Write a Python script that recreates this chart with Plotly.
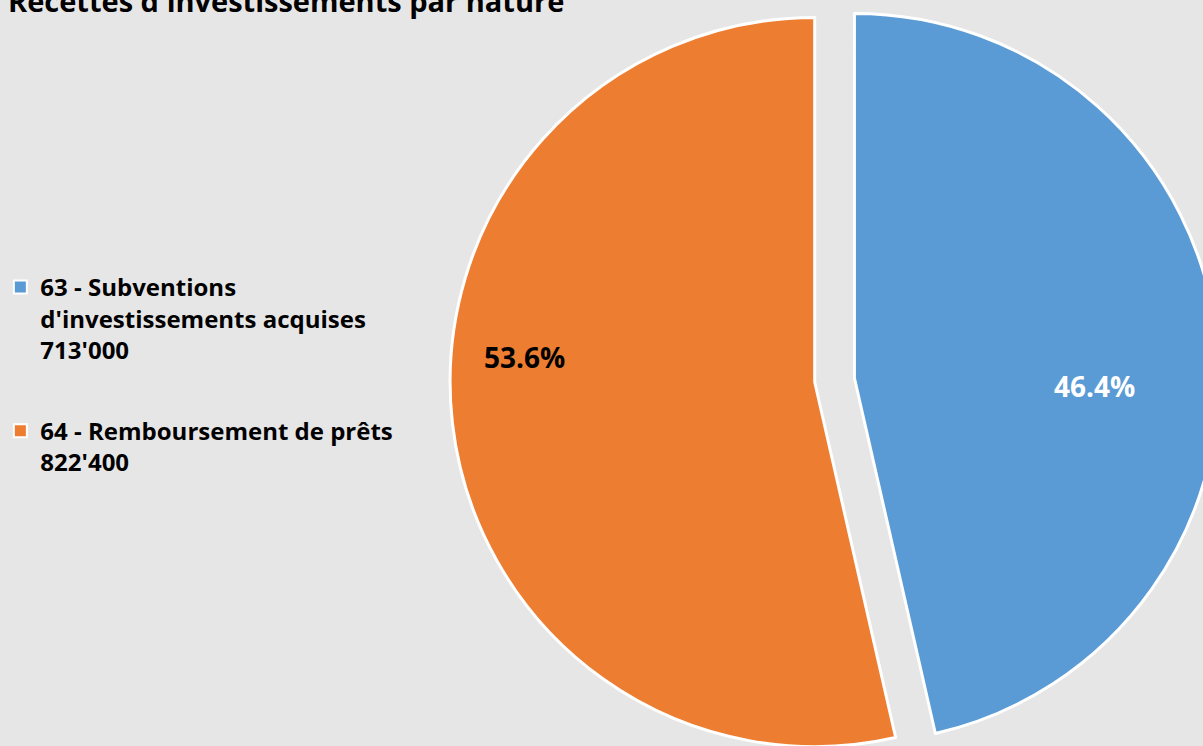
import math
import plotly.graph_objects as go

# ---- data ----
title = "Recettes d'investissements par nature"
categories = ["63 - Subventions<br>d'investissements acquises",
              "64 - Remboursement de prêts"]
amount_labels = ["713'000", "822'400"]
values = [713000, 822400]

# ---- style ----
colors = ["#5B9BD5", "#ED7D31"]
text_colors = ["#FFFFFF", "#000000"]
BG = "#E7E6E6"
FONT = "Open Sans"
W, H = 1225, 760            # page is clipped to the 1203x746 window
R = 367                      # pie radius in px
centers = [(852, 378), (812, 382)]   # exploded blue slice, orange slice
label_radius = [0.66, 0.80]
label_shift_deg = [8.2, 11.2]

def domain(cx, cy):
    return dict(x=[(cx - R) / W, (cx + R) / W],
                y=[(H - (cy + R)) / H, (H - (cy - R)) / H])

fig = go.Figure()

# legend entries
for i, (cat, amt) in enumerate(zip(categories, amount_labels)):
    fig.add_trace(go.Scatter(
        x=[None], y=[None], mode="markers",
        name=f"{cat}<br>{amt}", legendgroup=f"g{i}", showlegend=True,
        marker=dict(symbol="square", size=13, color=colors[i],
                    line=dict(color="#FFFFFF", width=2)),
        hoverinfo="skip",
    ))

# pie slices (each trace shows one slice; the blue one is exploded)
total = sum(values)
for i in range(len(values)):
    slice_colors = [colors[j] if j == i else "rgba(0,0,0,0)" for j in range(len(values))]
    line_colors = ["#FFFFFF" if j == i else "rgba(0,0,0,0)" for j in range(len(values))]
    fig.add_trace(go.Pie(
        labels=[c.replace("<br>", " ") for c in categories],
        values=values,
        sort=False, direction="clockwise", rotation=0,
        marker=dict(colors=slice_colors, line=dict(color=line_colors, width=3)),
        textinfo="none",
        domain=domain(*centers[i]),
        showlegend=False,
        hoverinfo="label+value+percent",
    ))

# percentage labels
cum = 0
for i, v in enumerate(values):
    mid = (cum + v / 2) / total * 360 + label_shift_deg[i]
    cum += v
    cx, cy = centers[i]
    px = cx + label_radius[i] * R * math.sin(math.radians(mid))
    py = cy - label_radius[i] * R * math.cos(math.radians(mid))
    fig.add_annotation(
        x=px / W, y=1 - py / H, xref="paper", yref="paper",
        text=f"{v / total * 100:.1f}%", showarrow=False,
        font=dict(family=FONT, size=28, color=text_colors[i], weight="bold"),
        xanchor="center", yanchor="middle",
    )

fig.update_layout(
    width=W, height=H, autosize=False,
    paper_bgcolor=BG, plot_bgcolor=BG,
    margin=dict(l=0, r=0, t=0, b=0),
    font=dict(family=FONT, color="#000000"),
    xaxis=dict(visible=False), yaxis=dict(visible=False),
    title=dict(text=title, x=8 / W, xanchor="left", xref="container",
               y=1 - 2 / H, yanchor="middle", yref="container",
               font=dict(size=29, family=FONT, weight="bold", color="#000000")),
    legend=dict(x=-7.7 / W, xanchor="left", y=1 - 265 / H, yanchor="top",
                valign="top",
                font=dict(size=24, family=FONT, color="#000000", weight="bold"),
                tracegroupgap=47, bgcolor="rgba(0,0,0,0)", borderwidth=0),
    showlegend=True,
)

fig.write_html(
    "out.html",
    config={"displayModeBar": False},
    post_script=("document.body.style.margin='0';"
                 "document.body.style.overflow='hidden';"
                 "document.documentElement.style.overflow='hidden';"),
)
